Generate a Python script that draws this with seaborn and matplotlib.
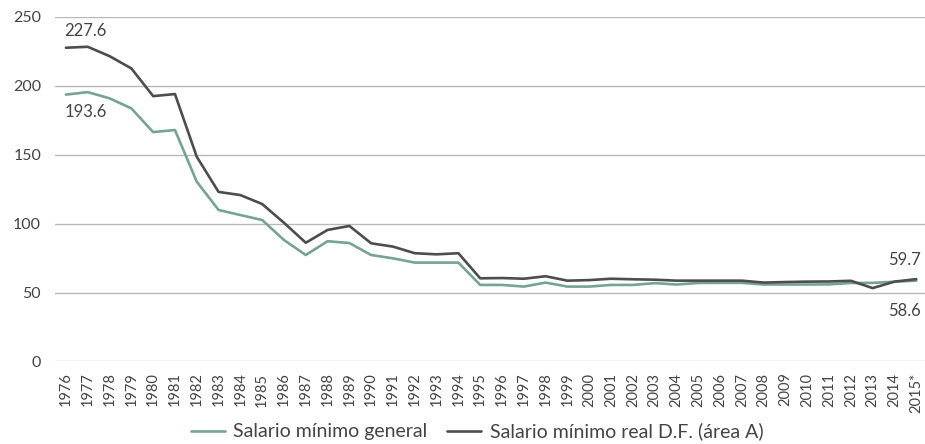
import numpy as np
import pandas as pd
import matplotlib
matplotlib.use("Agg")
import matplotlib.pyplot as plt
import seaborn as sns

# datos
years = ["1976", "1977", "1978", "1979", "1980", "1981", "1982", "1983", "1984", "1985",
         "1986", "1987", "1988", "1989", "1990", "1991", "1992", "1993", "1994", "1995",
         "1996", "1997", "1998", "1999", "2000", "2001", "2002", "2003", "2004", "2005",
         "2006", "2007", "2008", "2009", "2010", "2011", "2012", "2013", "2014", "2015*"]
general = [193.6, 195.4, 190.9, 183.6, 166.4, 167.9, 130.4, 109.9, 106.2, 102.6,
           88.1, 77.2, 87.2, 85.9, 77.2, 74.8, 71.7, 71.7, 71.7, 55.5,
           55.5, 54.3, 57.2, 54.3, 54.3, 55.5, 55.5, 56.8, 55.8, 56.9,
           57.0, 57.0, 55.8, 55.8, 55.8, 55.9, 56.9, 57.0, 57.8, 58.6]
real_df = [227.6, 228.3, 221.5, 212.6, 192.5, 194.0, 148.5, 123.0, 120.7, 114.2,
           100.6, 86.1, 95.4, 98.3, 85.7, 83.3, 78.5, 77.7, 78.5, 60.3,
           60.5, 60.0, 61.8, 58.6, 59.0, 60.0, 59.6, 59.3, 58.6, 58.6,
           58.6, 58.6, 57.2, 57.6, 57.9, 58.0, 58.5, 53.2, 57.9, 59.7]
series_names = ["Salario mínimo general", "Salario mínimo real D.F. (área A)"]
colors = ["#75a394", "#4d4d4d"]

df = pd.DataFrame({
    "pos": list(range(len(years))) * 2,
    "valor": general + real_df,
    "serie": [series_names[0]] * len(years) + [series_names[1]] * len(years),
})

sns.set_style("white")
plt.rcParams['font.family'] = ['Lato', 'DejaVu Sans']
txt = "#444444"

fig = plt.figure(figsize=(9.25, 4.44), dpi=100)
ax = fig.add_axes([0.0595, 0.186, 0.9405, 0.776])

sns.lineplot(data=df, x="pos", y="valor", hue="serie", palette=colors,
             linewidth=1.9, ax=ax, legend=True)

ax.set_ylim(0, 250)
ax.set_xlim(-0.5, 39.4)
ax.set_yticks(range(0, 251, 50))
ax.yaxis.grid(True, color="#b8b8b8", linewidth=1)
ax.xaxis.grid(False)
ax.set_axisbelow(True)
for s in ax.spines.values():
    s.set_visible(False)
ax.set_xticks(range(len(years)))
ax.set_xticklabels(years, rotation=90, fontsize=10.5, color=txt)
ax.tick_params(axis="y", labelsize=11.5, colors=txt, pad=10, length=0)
ax.tick_params(axis="x", length=0, pad=8)
ax.set_xlabel("")
ax.set_ylabel("")

# etiquetas de valores
ax.annotate(f"{real_df[0]}", (0, real_df[0]), xytext=(-1, 6), textcoords="offset points",
            fontsize=12, color=txt, ha="left", va="bottom")
ax.annotate(f"{general[0]}", (0, general[0]), xytext=(-1, -7), textcoords="offset points",
            fontsize=12, color=txt, ha="left", va="top")
ax.annotate(f"{real_df[-1]}", (len(years) - 1, real_df[-1]), xytext=(3, 8), textcoords="offset points",
            fontsize=12, color=txt, ha="right", va="bottom")
ax.annotate(f"{general[-1]}", (len(years) - 1, general[-1]), xytext=(3, -16), textcoords="offset points",
            fontsize=12, color=txt, ha="right", va="top")

leg = ax.legend(loc="lower center", bbox_to_anchor=(0.485, -0.28), ncol=2, frameon=False,
                fontsize=14, handlelength=1.75, columnspacing=1.0, handletextpad=0.45,
                bbox_transform=ax.transAxes)
for t in leg.get_texts():
    t.set_color(txt)

fig.savefig("out.png", dpi=100)
